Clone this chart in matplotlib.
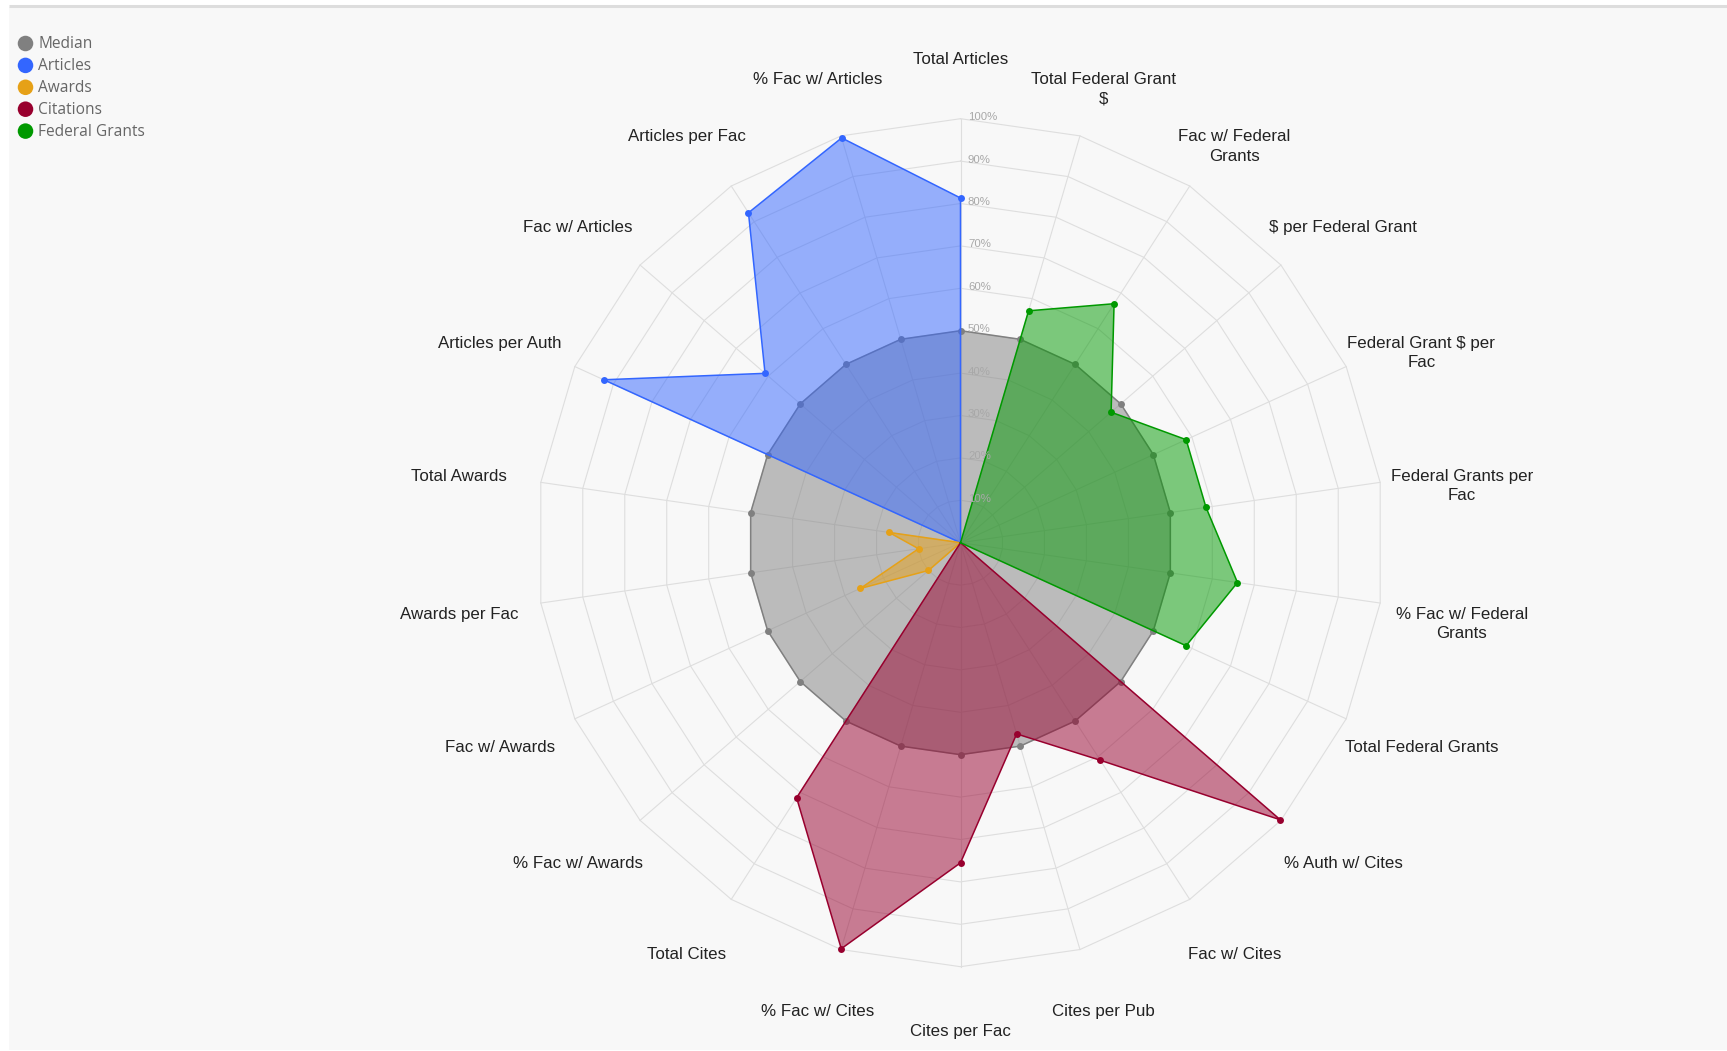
import numpy as np
import matplotlib
matplotlib.use("Agg")
import matplotlib.pyplot as plt
from matplotlib.patches import Rectangle
from matplotlib.transforms import offset_copy

# ---------------- data ----------------
axis_labels = [
    "Total Articles", "Total Federal Grant\n$", "Fac w/ Federal\nGrants", "$ per Federal Grant",
    "Federal Grant $ per\nFac", "Federal Grants per\nFac", "% Fac w/ Federal\nGrants",
    "Total Federal Grants", "% Auth w/ Cites", "Fac w/ Cites", "Cites per Pub", "Cites per Fac",
    "% Fac w/ Cites", "Total Cites", "% Fac w/ Awards", "Fac w/ Awards", "Awards per Fac",
    "Total Awards", "Articles per Auth", "Fac w/ Articles", "Articles per Fac", "% Fac w/ Articles",
]

median    = [50, 50, 50, 50, 50, 50, 50, 50, 50, 50, 50, 50, 50, 50, 50, 50, 50, 50, 50, 50, 50, 50]
articles  = [81.3, 0, 0, 0, 0, 0, 0, 0, 0, 0, 0, 0, 0, 0, 0, 0, 0, 0, 92.5, 61, 92.5, 99.5]
awards    = [0, 0, 0, 0, 0, 0, 0, 0, 0, 0, 0, 0, 0, 0, 10, 26, 10, 17, 0, 0, 0, 0]
citations = [0, 0, 0, 0, 0, 0, 0, 0, 99.8, 61, 47, 75.5, 99.8, 71.5, 0, 0, 0, 0, 0, 0, 0, 0]
federal   = [0, 57, 67, 47, 58.5, 58.5, 66, 58.5, 0, 0, 0, 0, 0, 0, 0, 0, 0, 0, 0, 0, 0, 0]

series_names = ["Median", "Articles", "Awards", "Citations", "Federal Grants"]
series_values = [median, articles, awards, citations, federal]
series_colors = ["#808080", "#3366ff", "#e6a117", "#98002e", "#009900"]

ring_levels = [10, 20, 30, 40, 50, 60, 70, 80, 90, 100]
ring_labels = ["10%", "20%", "30%", "40%", "50%", "60%", "70%", "80%", "90%", "100%"]

# ---------------- figure ----------------
W, H = 1727, 1051
fig = plt.figure(figsize=(W / 100, H / 100), dpi=100, facecolor="white")

bg = fig.add_axes([0, 0, 1, 1])
bg.set_xlim(0, W)
bg.set_ylim(H, 0)
bg.axis("off")
bg.set_zorder(0)
bg.add_patch(Rectangle((9, 7), W - 9, H - 8, facecolor="#f8f8f8", edgecolor="none"))
bg.plot([9, W], [5.5, 5.5], color="#dddddd", lw=2.2, solid_capstyle="butt")

# legend
for i, (name, col) in enumerate(zip(series_names, series_colors)):
    y = 43.5 + i * 21.9
    bg.scatter([25.5], [y], s=125, color=col, edgecolors="none")
    bg.text(38.5, y + 0.5, name, ha="left", va="center", fontsize=11.2, color="#666666",
            family=["Open Sans", "DejaVu Sans"])

# polar radar axes
cx, cy, R = 960.5, 542.7, 424.0
ax = fig.add_axes([(cx - R) / W, (H - cy - R) / H, 2 * R / W, 2 * R / H], projection="polar")
ax.set_zorder(1)
ax.set_facecolor("none")
ax.set_theta_zero_location("N")
ax.set_theta_direction(-1)
ax.set_ylim(0, 100)
ax.grid(False)
ax.spines["polar"].set_visible(False)
ax.set_xticks([])
ax.set_yticks([])

n = len(axis_labels)
theta = np.linspace(0, 2 * np.pi, n, endpoint=False)
theta_c = np.append(theta, theta[0])

grid_col = "#dedede"
for lvl in ring_levels:
    ax.plot(theta_c, [lvl] * (n + 1), color=grid_col, lw=0.8, zorder=1, clip_on=False)
for t in theta:
    ax.plot([t, t], [0, ring_levels[-1]], color=grid_col, lw=0.8, zorder=1, clip_on=False)

for k, (vals, col) in enumerate(zip(series_values, series_colors)):
    v = np.array(vals, dtype=float)
    vc = np.append(v, v[0])
    ax.fill(theta_c, vc, color=col, alpha=0.5, lw=0, zorder=2 + k, clip_on=False)
    ax.plot(theta_c, vc, color=col, lw=1.1, zorder=2 + k, clip_on=False)
    m = v > 0
    ax.plot(theta[m], v[m], "o", color=col, ms=5, mew=0, zorder=2 + k, clip_on=False)

# radial tick labels
tick_tr = offset_copy(ax.transData, fig=fig, x=7.5, y=1.5, units="dots")
for lvl, lab in zip(ring_levels, ring_labels):
    ax.text(0, lvl, lab, transform=tick_tr, ha="left", va="center", fontsize=8.2,
            color="#a8a8a8", family="Liberation Sans", zorder=20)

# axis (point) labels
ax_x, ax_y = 506.6 / (2 * R), 485.7 / (2 * R)
for t, lab in zip(theta, axis_labels):
    px = 0.5 + ax_x * np.sin(t)
    py = 0.5 + ax_y * np.cos(t)
    for j, line in enumerate(lab.split("\n")):
        tr = offset_copy(ax.transAxes, fig=fig, x=0, y=-2.8 - 19.2 * j, units="dots")
        ax.text(px, py, line, transform=tr, ha="center", va="center", fontsize=12.2,
                color="#222222", family="Liberation Sans", zorder=20)

fig.savefig("out.png", dpi=100, facecolor="white")
